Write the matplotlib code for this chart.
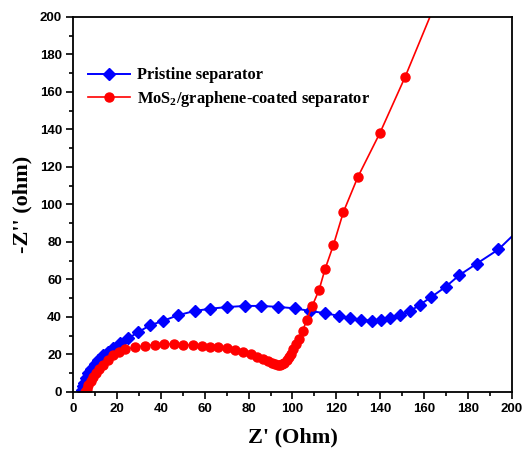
import matplotlib.pyplot as plt
from matplotlib.ticker import MultipleLocator

plt.rcParams['mathtext.fontset'] = 'custom'
plt.rcParams['mathtext.rm'] = 'Liberation Serif:bold'
plt.rcParams['mathtext.default'] = 'rm'

# pristine separator (blue diamonds); last point only continues the line
pristine_x = [4.0, 4.5, 5.2, 6.0, 7.0, 8.3, 9.8, 11.5, 13.5, 15.8, 18.4, 21.6,
              25.2, 29.8, 35.2, 41.0, 47.7, 55.4, 62.4, 70.2, 78.4, 85.6, 93.4,
              101.0, 108.0, 115.0, 121.0, 126.0, 131.0, 136.0, 140.5, 144.5,
              149.0, 153.5, 158.0, 163.3, 169.8, 176.0, 184.0, 193.8, 200.0]
pristine_y = [1.0, 3.0, 5.0, 7.5, 10.0, 12.5, 15.0, 17.3, 19.5, 21.5, 23.5, 26.0,
              28.6, 32.0, 35.6, 37.9, 40.9, 43.2, 44.4, 45.3, 45.9, 45.9, 45.4,
              44.6, 43.2, 42.0, 40.6, 39.6, 38.5, 38.0, 38.3, 39.5, 41.0, 43.0,
              46.5, 50.7, 56.1, 62.3, 68.5, 76.0, 83.0]

# MoS2/graphene-coated separator (red circles); last point only continues the line
coated_x = [5.5, 6.2, 7.0, 8.0, 9.2, 10.5, 12.0, 13.8, 16.0, 18.4, 21.0, 23.7,
            28.2, 32.8, 37.4, 41.6, 45.9, 50.3, 54.5, 58.6, 62.4, 66.2, 70.0,
            73.8, 77.6, 81.0, 84.0, 86.5, 88.7, 90.5, 92.0, 93.3, 94.3, 95.3,
            96.3, 97.3, 98.3, 99.3, 100.4, 101.7, 103.1, 104.6, 106.5, 109.0,
            112.1, 114.8, 118.6, 123.2, 129.8, 139.9, 151.3, 162.6]
coated_y = [0.0, 1.5, 3.5, 5.8, 8.2, 10.3, 12.5, 14.4, 17.0, 19.7, 21.5, 22.8,
            23.8, 24.7, 25.2, 25.6, 25.6, 25.2, 24.9, 24.5, 24.2, 23.8, 23.3,
            22.5, 21.3, 20.0, 18.6, 17.5, 16.5, 15.7, 15.0, 14.6, 14.4, 14.7,
            15.5, 16.8, 18.5, 20.5, 23.0, 25.5, 28.5, 32.5, 38.4, 45.9, 54.4,
            65.4, 78.2, 96.0, 114.7, 138.3, 168.0, 200.0]

fig = plt.figure(figsize=(5.27, 4.54), dpi=100)
ax = fig.add_axes([0.1385, 0.1366, 0.833, 0.826])

ax.plot(pristine_x, pristine_y, color='#0000ff', marker='D', markersize=6.5,
        linewidth=1.4, markevery=slice(0, len(pristine_x) - 1),
        label='Pristine separator')
ax.plot(coated_x, coated_y, color='#ff0000', marker='o', markersize=6.5,
        linewidth=1.2, markevery=slice(0, len(coated_x) - 1),
        label='MoS$_2$/graphene-coated separator')

ax.set_xlim(0, 200)
ax.set_ylim(0, 200)
ax.xaxis.set_major_locator(MultipleLocator(20))
ax.xaxis.set_minor_locator(MultipleLocator(10))
ax.yaxis.set_major_locator(MultipleLocator(20))
ax.yaxis.set_minor_locator(MultipleLocator(10))
ax.tick_params(which='major', direction='out', length=5, width=1.2,
               top=False, right=False, pad=3)
ax.tick_params(which='minor', direction='out', length=3, width=1.2,
               top=False, right=False)
for lab in ax.get_xticklabels() + ax.get_yticklabels():
    lab.set_fontfamily('Liberation Sans')
    lab.set_fontweight('bold')
    lab.set_fontsize(9.5)
for sp in ax.spines.values():
    sp.set_linewidth(1.3)

ax.set_xlabel("Z' (Ohm)", fontfamily='Liberation Serif', fontweight='bold',
              fontsize=16, labelpad=9)
ax.set_ylabel("-Z'' (ohm)", fontfamily='Liberation Serif', fontweight='bold',
              fontsize=16, labelpad=5)

ax.legend(loc='upper left', bbox_to_anchor=(0.0, 0.905), frameon=False,
          prop={'family': 'Liberation Serif', 'weight': 'bold', 'size': 11.8},
          handlelength=2.6, handletextpad=0.4, labelspacing=0.35)

fig.savefig('out.png', dpi=100)
